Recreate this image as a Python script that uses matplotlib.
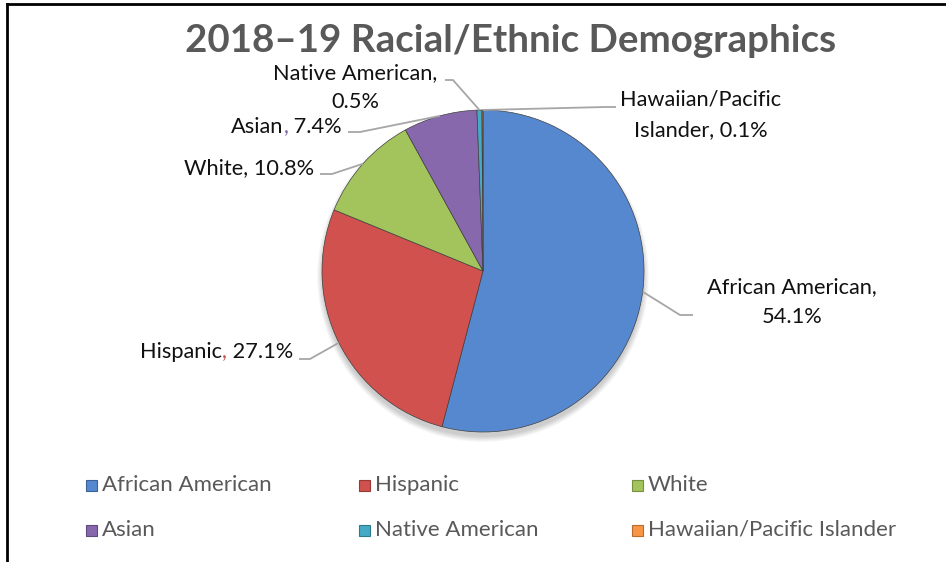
import matplotlib.pyplot as plt
from matplotlib.patches import Circle, Rectangle
from matplotlib.lines import Line2D
import numpy as np

groups = ['African American', 'Hispanic', 'White', 'Asian',
          'Native American', 'Hawaiian/Pacific Islander']
shares = [54.1, 27.1, 10.8, 7.4, 0.5, 0.1]
colors = ['#5688cf', '#d0514e', '#a3c45c', '#8868ad', '#46aac4', '#f79646']
edges = ['#3b6296', '#963a38', '#76903f', '#5f4a7c', '#2f7b8e', '#b86c2e']

W, H = 946, 562
plt.rcParams['font.family'] = ['Lato', 'DejaVu Sans']

fig = plt.figure(figsize=(9.46, 5.62), dpi=100)
ax = fig.add_axes([0, 0, 1, 1])


def Y(y):
    # layout below is written with y measured from the top edge
    return H - y


cx, cy, r = 483, Y(271), 161

# soft drop shadow under the pie
for k in range(10):
    ax.add_patch(Circle((cx, cy - 5), r + 5 - k * 0.6, color='black',
                        alpha=0.018, lw=0, zorder=1))

wedges, _ = ax.pie(shares, colors=colors, startangle=90, counterclock=False,
                   center=(cx, cy), radius=r,
                   wedgeprops=dict(edgecolor='#404040', linewidth=0.5, zorder=2))

ax.set_xlim(0, W)
ax.set_ylim(0, H)
ax.set_aspect('equal')
ax.axis('off')

label_fs = 15.7
legend_fs = 16
label_col = '#111111'
line_col = '#a6a6a6'


def edge_point(w):
    a = np.deg2rad((w.theta1 + w.theta2) / 2)
    return cx + r * np.cos(a), cy + r * np.sin(a)


def leader(w, pts):
    x0, y0 = edge_point(w)
    xs = [x0] + [p[0] for p in pts]
    ys = [y0] + [Y(p[1]) for p in pts]
    ax.plot(xs, ys, color=line_col, lw=1.3, zorder=3, solid_capstyle='butt')


def label_right(x, y, pieces):
    # pieces drawn right to left so the block ends at x
    prev = None
    for txt, col in reversed(pieces):
        if prev is None:
            prev = ax.text(x, Y(y), txt, ha='right', va='center',
                           fontsize=label_fs, color=col)
        else:
            prev = ax.annotate(txt, xy=(0, 0.5), xycoords=prev, ha='right',
                               va='center', fontsize=label_fs, color=col)


def label_center(x, y, txt):
    ax.text(x, Y(y), txt, ha='center', va='center', fontsize=label_fs,
            color=label_col)


pct = [f'{v:.1f}%' for v in shares]

# African American
leader(wedges[0], [(680, 315), (693, 315)])
label_center(792, 287, groups[0] + ',')
label_center(792, 317, pct[0])

# Hispanic
leader(wedges[1], [(310, 359), (299, 359)])
label_right(293, 352, [(groups[1], label_col), (',', '#c0504d'),
                       (' ' + pct[1], label_col)])

# White
leader(wedges[2], [(332, 174), (320, 174)])
label_right(314, 168, [(groups[2] + ', ' + pct[2], label_col)])

# Asian
leader(wedges[3], [(360, 132), (348, 132)])
label_right(342, 127, [(groups[3], label_col), (',', '#7f63a1'),
                       (' ' + pct[3], label_col)])

# Native American
leader(wedges[4], [(453, 80), (445, 80)])
label_center(355, 73, groups[4] + ',')
label_center(355, 102, pct[4])

# Hawaiian/Pacific Islander
leader(wedges[5], [(605, 107), (616, 107)])
label_center(701, 100, 'Hawaiian/Pacific')
label_center(701, 130, 'Islander, ' + pct[5])

# title
ax.text(511, Y(41), '2018\u201319 Racial/Ethnic Demographics', ha='center',
        va='center', fontsize=27.7, fontweight='bold', color='#595959')

# legend, three columns by two rows
col_x = [91, 364, 637]
row_y = [485, 530]
for i, (name, c, ec) in enumerate(zip(groups, colors, edges)):
    x = col_x[i % 3]
    y = Y(row_y[i // 3])
    ax.add_patch(Rectangle((x - 5.5, y - 5.5), 11, 11, facecolor=c,
                           edgecolor=ec, lw=0.8))
    ax.text(x + 11, y, name, ha='left', va='center', fontsize=legend_fs,
            color='#595959')

# chart frame (top and left edges)
fig.add_artist(Line2D([7 / W, 1], [1 - 4 / H, 1 - 4 / H], color='black', lw=2))
fig.add_artist(Line2D([7 / W, 7 / W], [0, 1 - 4 / H], color='black', lw=2))

fig.savefig('out.png', dpi=100)
